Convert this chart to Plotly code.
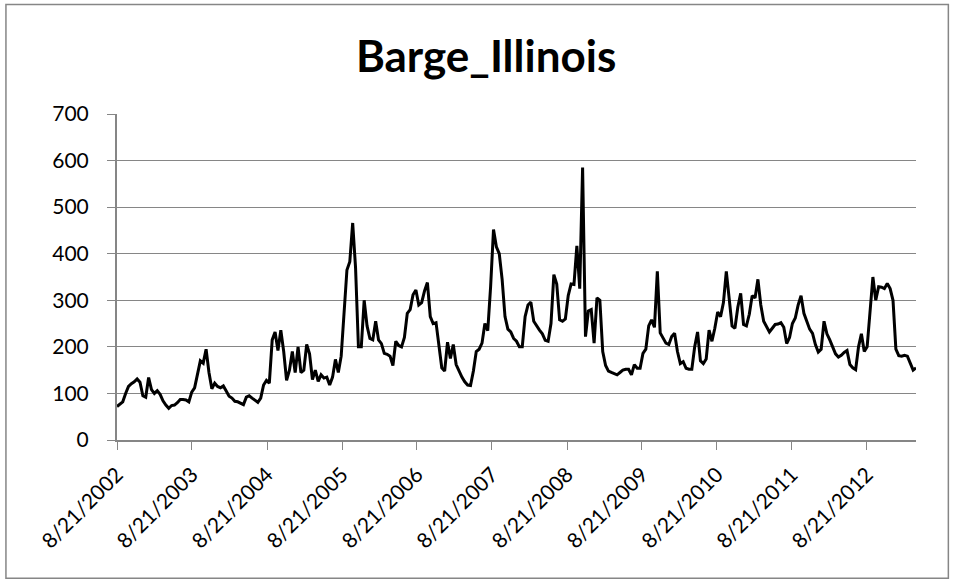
import pandas as pd
import plotly.graph_objects as go

# Biweekly barge rate index, Illinois River, starting 8/21/2002
start_date = "2002-08-21"
rate_values = [
    72, 77, 82, 100, 115, 121, 125, 131, 124, 95,
    92, 134, 108, 100, 106, 98, 84, 75, 68, 74,
    75, 80, 87, 87, 86, 82, 103, 112, 145, 170,
    165, 195, 145, 110, 122, 115, 112, 116, 105, 94,
    90, 83, 82, 79, 76, 92, 95, 90,
    85, 81, 90, 118, 128, 122, 215, 232, 192, 236,
    190, 128, 150, 190, 145, 200, 145, 150, 205, 185,
    130, 150, 126, 140, 133, 135, 118, 135, 173, 145,
    180, 280, 365, 383, 466, 370, 200, 200, 300, 245,
    218, 215, 255, 215, 207, 186, 184, 180,
    160, 212, 203, 200, 220, 272, 280, 312, 322, 290,
    295, 320, 338, 265, 250, 252, 207, 155, 148, 210,
    175, 205, 162, 148, 135, 125, 118, 117, 148, 190,
    195, 208, 250, 235, 330, 452, 415, 400, 345, 265,
    238, 232, 218, 212, 200,
    200, 265, 290, 296, 255, 244, 236, 228, 214, 212,
    250, 355, 335, 258, 255, 260, 310, 335, 334, 417,
    325, 585, 222, 277, 280, 208, 305, 300, 190, 160,
    148, 145, 143, 140, 145, 150, 152, 152, 140, 162,
    154, 154, 186, 195, 245, 258, 242, 362, 230,
    220, 208, 205, 222, 229, 190, 164, 168, 154, 152,
    152, 200, 232, 170, 164, 174, 236, 212, 240, 275,
    265, 295, 362, 295, 245, 240, 285, 315, 248, 245,
    270, 310, 305, 345, 290, 255, 245, 232, 240, 248,
    249, 252, 242, 207, 220,
    250, 262, 290, 310, 272, 255, 238, 229, 205, 189,
    195, 255, 228, 215, 198, 185, 178, 182, 188, 192,
    162, 155, 151, 200, 228, 190, 200, 270, 350, 300,
    329, 328, 325, 336, 325, 300, 195, 181, 180, 182,
    180, 165, 150, 155,
]
rate_dates = pd.date_range(start_date, periods=len(rate_values), freq="14D")

tick_years = list(range(2002, 2013))
tick_dates = [f"{y}-08-21" for y in tick_years]
tick_labels = [f"8/21/{y}" for y in tick_years]
y_ticks = [0, 100, 200, 300, 400, 500, 600, 700]

FONT = "Lato, 'Open Sans', sans-serif"
GRID = "#868686"

fig = go.Figure()
fig.add_trace(go.Scatter(
    x=rate_dates, y=rate_values, mode="lines",
    line=dict(color="#000000", width=3),
    showlegend=False, hoverinfo="x+y",
))

fig.update_layout(
    width=955, height=579,
    margin=dict(l=117, r=39, t=114, b=139),
    paper_bgcolor="#ffffff", plot_bgcolor="#ffffff",
    title=dict(text="<b>Barge_Illinois</b>", x=0.509, xanchor="center",
               y=0.902, yanchor="middle",
               font=dict(family=FONT, size=44, color="#000000")),
    font=dict(family=FONT, color="#000000"),
)
fig.update_xaxes(
    type="date",
    range=[rate_dates[0], rate_dates[-1]],
    tickmode="array", tickvals=tick_dates, ticktext=tick_labels,
    tickangle=-45, tickfont=dict(family=FONT, size=21, color="#000000"),
    ticks="outside", ticklen=8, tickcolor=GRID, tickwidth=1,
    ticklabelstandoff=4,
    showline=True, linecolor=GRID, linewidth=2,
    showgrid=False, zeroline=False,
)
fig.update_yaxes(
    range=[0, 700], tickmode="array", tickvals=y_ticks,
    tickfont=dict(family=FONT, size=21, color="#000000"),
    ticks="outside", ticklen=8, tickcolor=GRID, tickwidth=1,
    ticklabelstandoff=14,
    showline=True, linecolor=GRID, linewidth=2,
    showgrid=True, gridcolor=GRID, gridwidth=1, zeroline=False,
)

# chart-area border
fig.add_shape(type="rect", xref="paper", yref="paper",
              x0=-0.139, x1=1.0405, y0=-0.4237, y1=1.3356,
              line=dict(color="#868686", width=1.5), fillcolor="rgba(0,0,0,0)",
              layer="below")

fig.write_html("out.html")
